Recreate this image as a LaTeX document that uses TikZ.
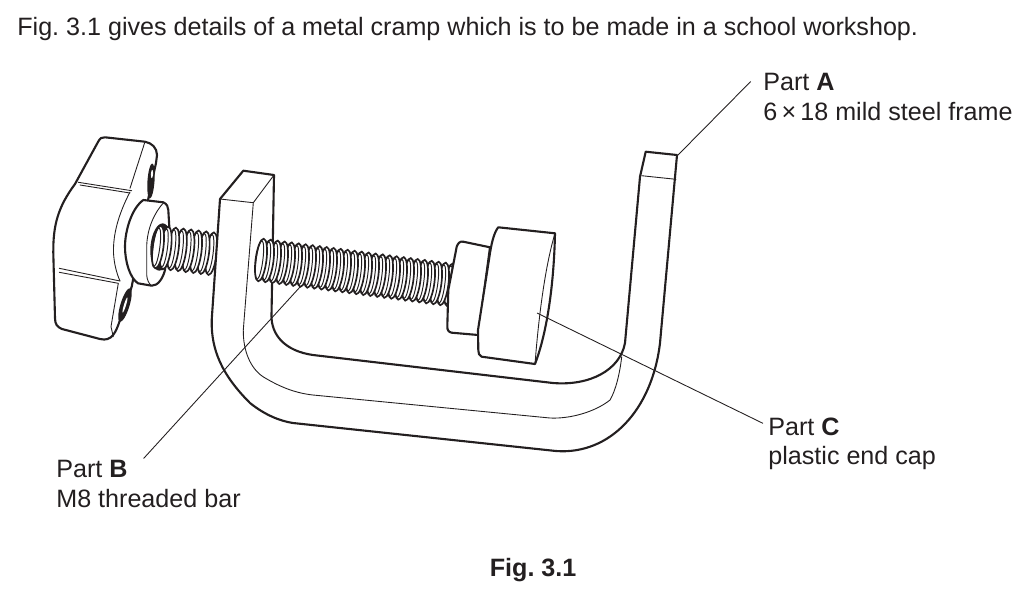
\documentclass[tikz,border=0pt]{standalone}
\usepackage{fontspec}
\setmainfont{Liberation Sans}
\frenchspacing
\definecolor{ink}{HTML}{231F20}
\tikzset{
	heavy/.style={line width=1.2pt,line join=round,line cap=round},
	fine/.style={line width=0.5pt,line cap=round},
	leader/.style={line width=0.5pt},
	threadturn/.style={line width=0.95pt,fill=white},
	threadcore/.style={line width=0.55pt},
	turnshape/.style={x radius=3.1pt,y radius=12.2pt,rotate=-7.4},
	coreshape/.style={x radius=1.9pt,y radius=11pt,rotate=-7.4},
	caption/.style={inner sep=0pt,anchor=base west,font=\fontsize{14.3pt}{17pt}\selectfont},
}
\begin{document}
\begin{tikzpicture}[x=0.02cm,y=-0.02cm,color=ink]
	\useasboundingbox (0,0) rectangle (1023,589);

	% knob
	\draw[heavy,fill=white] (105,137.3) -- (145,141.7) .. controls (152,143) and (157,148) .. (157,155) -- (156,163) -- (148,200) -- (131.7,286.7) -- (120,320) .. controls (116,332) and (112,342) .. (100,339) -- (62,329) .. controls (57,327) and (55,324) .. (55,318) -- (53.3,253) .. controls (53,225) and (58,207) .. (75,184) -- (98,142) .. controls (100,138) and (102,137) .. (105,137.3) -- cycle;
	\draw[fine] (145,141.7) -- (130,188.3);
	\draw[fine] (78.3,182.3) -- (131.7,190.7);
	\draw[fine] (80,185) -- (130,193);
	\draw[fine] (130,192) .. controls (118,215) and (113,235) .. (113.5,253) .. controls (114,262) and (116,272) .. (120,281);
	\draw[fine] (59.3,268.3) -- (120,281);
	\draw[fine] (59.3,272.3) -- (118.3,283.3);
	\draw[fine] (118.3,283.3) -- (111,326.7) -- (113.3,336.7);

	% slits in the wings
	\fill[ink] (151,181) ellipse [x radius=2pt,y radius=10pt,rotate=-4];
	\fill[white] (152,174) ellipse [x radius=0.6pt,y radius=2.4pt,rotate=-4];
	\fill[ink] (125,305) ellipse [x radius=2.6pt,y radius=10pt,rotate=-17];
	\fill[white] (125,305) ellipse [x radius=0.6pt,y radius=4.5pt,rotate=-17];

	% hub
	\draw[heavy,fill=white] (143.3,200) -- (163.3,202.3) .. controls (167,204) and (168.3,207) .. (168.3,210) -- (169.3,226.7) -- (165,270) .. controls (163,278) and (158,286) .. (151.7,285.7) -- (138,283.3) .. controls (130,278) and (125,262) .. (125,246.7) .. controls (125,230) and (132,208) .. (143.3,200) -- cycle;
	\draw[fine] (163.3,203) .. controls (155,212) and (147,228) .. (146.7,246.7) -- (146.7,275) .. controls (147,280) and (149,284) .. (151.7,285.7);
	\fill[ink] (161,247) ellipse [x radius=6pt,y radius=13.5pt,rotate=-5];

	% short thread
	\foreach \i in {7,...,0}{
		\draw[threadturn] ({158+\i*7.6},{247+\i*0.95}) ellipse [turnshape];
		\draw[threadcore] ({156.5+\i*7.6},{247+\i*0.95}) ellipse [coreshape];
	}

	% frame
	\draw[heavy,fill=white] (220,199) -- (211.7,320) .. controls (211,350) and (222,375) .. (250,403) .. controls (265,415) and (280,421) .. (293,423) -- (556,451) .. controls (610,455) and (652,410) .. (660,343) -- (677,155) -- (645.7,151.7) -- (640,176.7) -- (625,343) .. controls (620,370) and (590,386) .. (553,383) -- (313,355) .. controls (285,351) and (271,335) .. (271.5,315) -- (274,175) -- (243.3,170.7) -- cycle;
	\draw[fine] (220,199) -- (253.3,202.7) -- (274,175);
	\draw[fine] (253.3,202.7) -- (243.3,330) .. controls (243,350) and (250,368) .. (263,376.7) .. controls (280,387) and (295,393) .. (313,395) -- (550,418) .. controls (570,419) and (595,412) .. (610,400) .. controls (616,390) and (620,372) .. (621.7,356.7);
	\draw[fine] (641.7,175.7) -- (676,179.3);

	% long thread
	\foreach \i in {27,...,0}{
		\draw[threadturn] ({261+\i*7},{260+\i*0.92}) ellipse [turnshape];
		\draw[threadcore] ({259.5+\i*7},{260+\i*0.92}) ellipse [coreshape];
	}

	% collar and end cap
	\draw[heavy,fill=white] (463.3,241.7) -- (490,247.3) -- (478.3,335) -- (451.7,332.7) .. controls (448.5,332) and (447.3,330) .. (447.3,326.7) -- (448.3,290) -- (456.7,246.7) .. controls (458,243) and (460,241) .. (463.3,241.7) -- cycle;
	\draw[heavy,fill=white] (498.3,227.3) -- (555,233.3) .. controls (554,280) and (548,330) .. (535,364) -- (481.7,356.7) .. controls (479,356) and (478.3,353) .. (478.3,350) -- (478,330) -- (490,253) .. controls (492,240) and (495,231) .. (498.3,227.3) -- cycle;
	\draw[fine] (555,233.3) .. controls (544,270) and (538,325) .. (535,364);

	% labels
	\node[caption] (title) at (17,35) {Fig. 3.1 gives details of a metal cramp which is to be made in a school workshop.};
	\node[caption] (partA) at (763,90) {Part \textbf{A}};
	\node[caption] (stockA) at (763,120) {6\,×\,18 mild steel frame};
	\node[caption] (partB) at (56,477) {Part \textbf{B}};
	\node[caption] (stockB) at (56,507) {M8 threaded bar};
	\node[caption] (partC) at (768,435) {Part \textbf{C}};
	\node[caption] (stockC) at (768,464.5) {plastic end cap};
	\node[caption] (figlabel) at (489.5,576) {\textbf{Fig. 3.1}};

	% leaders
	\coordinate (tipA) at (678,155);
	\coordinate (tipB) at (300,287);
	\coordinate (tipC) at (537,313);
	\draw[leader] ([xshift=-7]partA.west) -- (tipA);
	\draw[leader] ([shift={(15.7,-10)}]partB.east) -- (tipB);
	\draw[leader] ([shift={(-5,-3)}]partC.west) -- (tipC);
\end{tikzpicture}
\end{document}
